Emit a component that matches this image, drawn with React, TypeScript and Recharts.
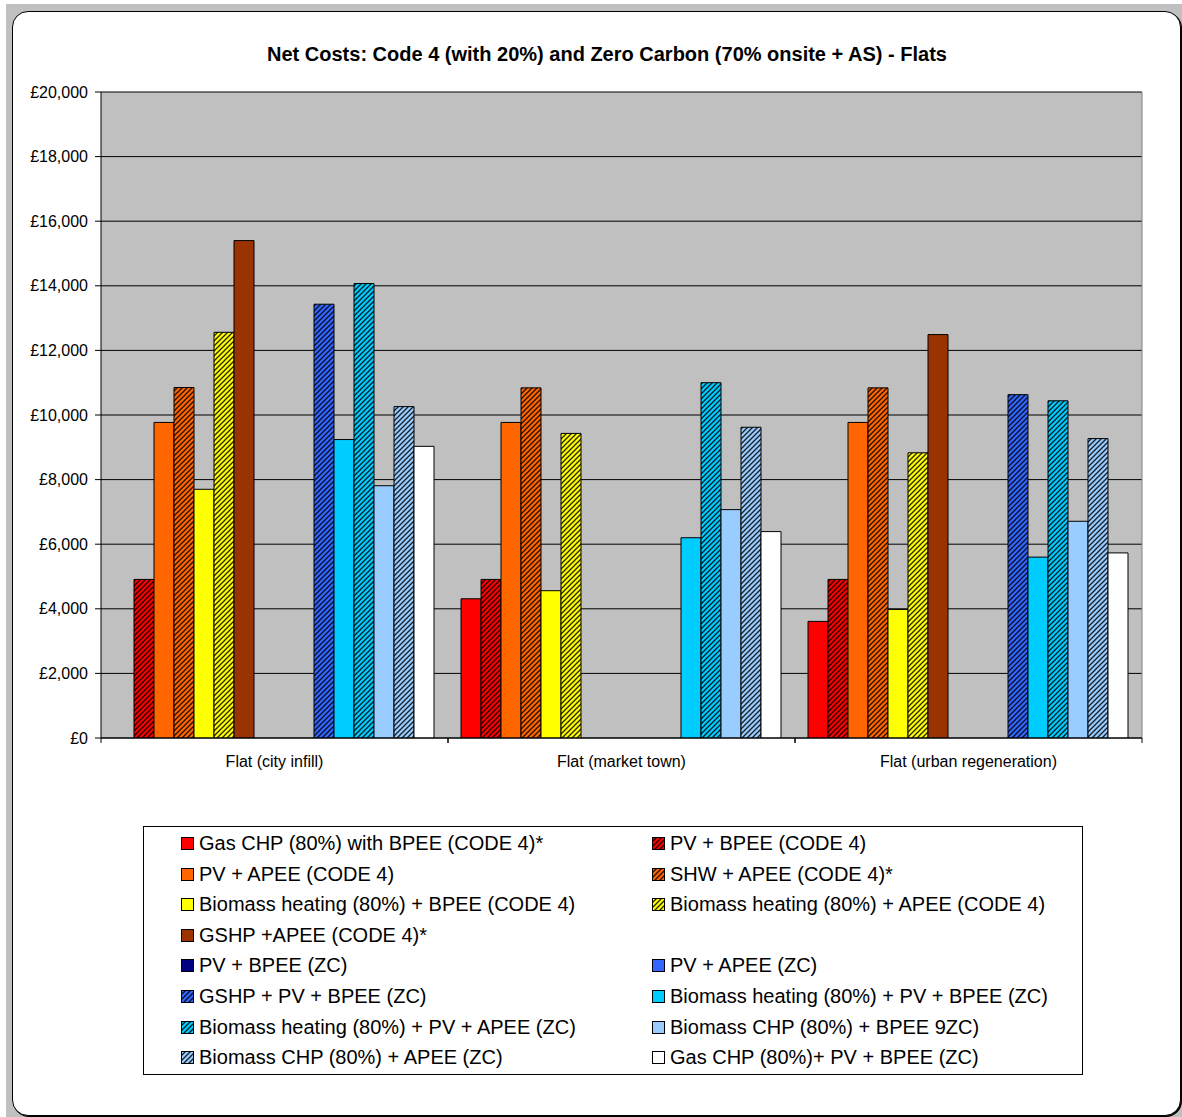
import React from "react";
import { BarChart, Bar, XAxis, YAxis, CartesianGrid } from "recharts";

const FONT = "'Liberation Sans', Arial, sans-serif";

const categories = ["Flat (city infill)", "Flat (market town)", "Flat (urban regeneration)"];

const gasChpBpeeCode4 = [null, 4310, 3610];
const pvBpeeCode4 = [4910, 4910, 4910];
const pvApeeCode4 = [9770, 9770, 9770];
const shwApeeCode4 = [10850, 10840, 10840];
const biomassBpeeCode4 = [7700, 4560, 3980];
const biomassApeeCode4 = [12560, 9430, 8830];
const gshpApeeCode4 = [15400, null, 12490];
const blankSeries = [null, null, null];
const pvBpeeZC = [null, null, null];
const pvApeeZC = [null, null, null];
const gshpPvBpeeZC = [13430, null, 10630];
const biomassPvBpeeZC = [9240, 6200, 5600];
const biomassPvApeeZC = [14070, 11000, 10440];
const biomassChpBpeeZC = [7810, 7070, 6710];
const biomassChpApeeZC = [10260, 9620, 9270];
const gasChpPvBpeeZC = [9030, 6390, 5730];

const seriesValues = [
  gasChpBpeeCode4, pvBpeeCode4, pvApeeCode4, shwApeeCode4,
  biomassBpeeCode4, biomassApeeCode4, gshpApeeCode4, blankSeries,
  pvBpeeZC, pvApeeZC, gshpPvBpeeZC, biomassPvBpeeZC,
  biomassPvApeeZC, biomassChpBpeeZC, biomassChpApeeZC, gasChpPvBpeeZC,
];

const seriesLabels = [
  "Gas CHP (80%) with BPEE (CODE 4)*",
  "PV + BPEE (CODE 4)",
  "PV + APEE (CODE 4)",
  "SHW + APEE (CODE 4)*",
  "Biomass heating (80%) + BPEE (CODE 4)",
  "Biomass heating (80%) + APEE (CODE 4)",
  "GSHP +APEE (CODE 4)*",
  "",
  "PV + BPEE (ZC)",
  "PV + APEE (ZC)",
  "GSHP + PV + BPEE (ZC)",
  "Biomass heating (80%) + PV + BPEE (ZC)",
  "Biomass heating (80%) + PV + APEE (ZC)",
  "Biomass CHP (80%) + BPEE 9ZC)",
  "Biomass CHP (80%) + APEE (ZC)",
  "Gas CHP (80%)+ PV + BPEE (ZC)",
];

const yTicks = [0, 2000, 4000, 6000, 8000, 10000, 12000, 14000, 16000, 18000, 20000];

// styles (kept separate from data)
const seriesColors = [
  "#FF0000", "#FF0000", "#FF6600", "#FF6600",
  "#FFFF00", "#FFFF00", "#993300", "none",
  "#000080", "#3366FF", "#3366FF", "#00CCFF",
  "#00CCFF", "#99CCFF", "#99CCFF", "#FFFFFF",
];
const seriesHatched = [
  false, true, false, true,
  false, true, false, false,
  false, false, true, false,
  true, false, true, false,
];

const data = categories.map((category, ci) => {
  const row: Record<string, any> = { category };
  seriesValues.forEach((vals, si) => {
    row[`s${si}`] = vals[ci];
  });
  return row;
});

const fmt = (v: number) => `£${v.toLocaleString("en-GB")}`;

const HatchPattern = ({ id, color }: { id: string; color: string }) => (
  <pattern id={id} patternUnits="userSpaceOnUse" width={5} height={5}>
    <rect width={5} height={5} fill={color} />
    <path d="M-1,1 l2,-2 M0,5 l5,-5 M4,6 l2,-2" stroke="#000" strokeOpacity={0.85} strokeWidth={1.3} />
  </pattern>
);

const CategoryTick = (props: any) => {
  const { x, y, payload, width, visibleTicksCount } = props;
  const w = typeof width === "number" ? width : 1041;
  const n = visibleTicksCount || categories.length;
  const half = w / n / 2;
  return (
    <g>
      <line x1={x - half} x2={x - half} y1={y} y2={y + 5} stroke="#000" />
      <line x1={x + half} x2={x + half} y1={y} y2={y + 5} stroke="#000" />
      <text x={x} y={y + 29} textAnchor="middle" fontSize={16} fill="#000" fontFamily={FONT}>
        {payload.value}
      </text>
    </g>
  );
};

const Swatch = ({ index }: { index: number }) => {
  const color = seriesColors[index];
  const hatched = seriesHatched[index];
  const pid = `lg-hatch-${index}`;
  return (
    <svg width={13} height={13} style={{ position: "absolute", left: 0, top: 9 }}>
      {hatched && (
        <defs>
          <HatchPattern id={pid} color={color} />
        </defs>
      )}
      <rect x={0.5} y={0.5} width={12} height={12} fill={hatched ? `url(#${pid})` : color} stroke="#000" strokeWidth={1} />
    </svg>
  );
};

const LegendBox = () => (
  <div
    style={{
      position: "absolute",
      left: 143,
      top: 826,
      width: 940,
      height: 249,
      border: "1px solid #000",
      boxSizing: "border-box",
      background: "#fff",
      fontFamily: FONT,
      fontSize: 20,
      color: "#000",
    }}
  >
    {seriesLabels.map((label, i) => {
      if (!label) return null;
      const row = Math.floor(i / 2);
      const col = i % 2;
      return (
        <div
          key={i}
          style={{
            position: "absolute",
            left: col === 0 ? 37 : 508,
            top: 1 + row * 30.6,
            height: 30,
            lineHeight: "30px",
            whiteSpace: "nowrap",
          }}
        >
          <Swatch index={i} />
          <span style={{ position: "absolute", left: 18, top: 0 }}>{label}</span>
        </div>
      );
    })}
  </div>
);

export default function App() {
  return (
    <div style={{ position: "absolute", left: 0, top: 0, width: 1182, height: 1117, background: "#fff", overflow: "hidden" }}>
      <div style={{ position: "absolute", left: 6, top: 4, width: 1176, height: 1113, background: "#C0C0C0" }} />
      <div
        style={{
          position: "absolute",
          left: 12,
          top: 11,
          width: 1169,
          height: 1105,
          background: "#fff",
          border: "1.5px solid #000",
          borderRadius: 16,
          boxSizing: "border-box",
          boxShadow: "1px 1px 0 #000",
        }}
      />
      <div
        style={{
          position: "absolute",
          left: 0,
          width: 1214,
          top: 43,
          textAlign: "center",
          fontFamily: FONT,
          fontWeight: "bold",
          fontSize: 20,
          lineHeight: "22px",
          color: "#000",
          whiteSpace: "nowrap",
        }}
      >
        Net Costs: Code 4 (with 20%) and Zero Carbon (70% onsite + AS) - Flats
      </div>
      <div style={{ position: "absolute", left: 0, top: 0 }}>
        <BarChart
          width={1182}
          height={1117}
          data={data}
          margin={{ top: 92, right: 40, bottom: 339, left: 10 }}
          barCategoryGap={13}
          barGap={0}
        >
          <defs>
            {seriesColors.map((c, i) =>
              seriesHatched[i] ? <HatchPattern key={i} id={`hatch${i}`} color={c} /> : null
            )}
          </defs>
          <CartesianGrid vertical={false} stroke="#000" fill="#C0C0C0" fillOpacity={1} />
          <CartesianGrid
            horizontal={false}
            stroke="#808080"
            verticalCoordinatesGenerator={({ offset }: any) => [offset.left + offset.width]}
          />
          <XAxis
            dataKey="category"
            height={40}
            tickSize={0}
            tickMargin={0}
            tickLine={false}
            axisLine={{ stroke: "#000" }}
            interval={0}
            tick={<CategoryTick />}
          />
          <YAxis
            domain={[0, 20000]}
            ticks={yTicks}
            interval={0}
            width={91}
            tickSize={6}
            tickMargin={7}
            tickFormatter={fmt}
            axisLine={{ stroke: "#000" }}
            tickLine={{ stroke: "#000" }}
            tick={{ fill: "#000", fontSize: 16, fontFamily: FONT }}
            allowDataOverflow
          />
          {seriesColors.map((c, i) => (
            <Bar
              key={i}
              dataKey={`s${i}`}
              name={seriesLabels[i]}
              fill={seriesHatched[i] ? `url(#hatch${i})` : c}
              stroke="#000"
              strokeWidth={1}
              isAnimationActive={false}
            />
          ))}
        </BarChart>
      </div>
      <LegendBox />
    </div>
  );
}
